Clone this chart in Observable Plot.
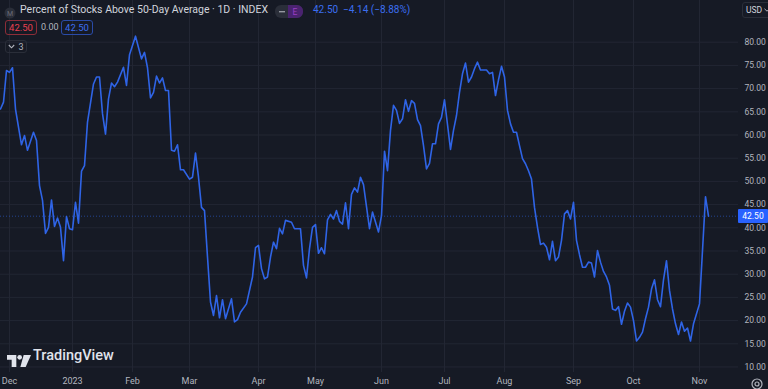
<!DOCTYPE html>
<html>
<head>
<meta charset="utf-8">
<script src="https://cdn.jsdelivr.net/npm/d3@7"></script>
<script src="https://cdn.jsdelivr.net/npm/@observablehq/plot@0.6"></script>
<style>
  html, body { margin: 0; padding: 0; background: #161a25; }
  #wrap { position: relative; width: 768px; height: 389px; overflow: hidden; font-family: Roboto, "Noto Sans", sans-serif; }
  .ov { position: absolute; white-space: nowrap; }
</style>
</head>
<body>
<div id="wrap"></div>
<script>
const bar = [0,1,2,3,4,5,6,7,8,9,11,12,13,14,15,16,17,18,19,20,21,22,23,24,25,26,27,28,29,31,32,33,34,35,36,37,38,39,41,42,43,45,47,48,49,50,51,52,53,54,55,56,57,58,59,60,61,63,64,65,66,67,68,69,70,71,72,73,74,75,77,78,79,80,
  82,84,85,86,87,88,89,90,91,92,93,94,95,97,98,100,101,102,103,104,105,106,107,108,109,110,111,112,113,114,115,116,117,118,119,120,121,123,124,126,127,128,129,130,131,132,133,134,135,136,137,138,139,140,141,142,143,144,145,146,147,148,150,151,152,153,154,155,156,157,158,159,160,
  162,163,164,165,166,167,168,169,170,171,172,173,174,175,176,177,178,179,180,181,182,183,184,185,186,187,188,189,190,191,192,193,194,195,196,197,198,199,200,201,202,203,204,205,206,207,208,209,210,211,212,213,214,215,216,217,218,219,220,221,222,223,224,225,226,227,228,229,230,231,233,234,235,236];
const pct = [65.6,67.1,73.9,73.5,74.5,65.6,61.7,57.9,59.9,56.7,60.6,58.8,49.1,45.9,38.8,40.1,46.0,40.3,42.1,40.1,32.9,42.4,39.8,39.6,45.5,41.0,52.2,53.4,62.8,71.0,72.5,72.5,64.6,60.2,67.8,71.2,70.4,71.4,74.6,70.7,77.3,81.3,76.4,77.8,74.5,68.0,69.2,72.7,71.2,72.3,69.6,69.6,56.7,56.5,57.9,52.5,52.5,50.5,50.9,56.1,50.9,44.4,43.7,33.7,24.0,21.1,25.4,20.6,24.5,20.4,24.7,19.7,20.2,21.8,
  23.6,29.4,35.7,36.2,31.2,29.0,29.4,33.7,36.9,35.5,39.9,38.7,41.6,41.2,39.8,39.8,31.9,29.2,35.5,40.1,40.7,34.5,35.7,34.4,41.7,42.9,41.9,43.7,41.4,40.8,45.4,39.8,47.2,48.6,47.7,50.9,49.3,39.8,43.4,39.1,42.6,56.5,52.3,61.0,66.4,65.3,62.5,63.5,67.6,65.1,67.4,66.8,63.3,62.0,57.7,52.7,53.9,58.1,58.1,62.4,63.8,67.6,56.9,61.0,64.2,69.2,73.2,75.5,71.4,72.5,74.3,75.7,74.0,
  74.0,73.2,73.5,68.5,71.9,74.8,72.5,65.3,62.4,60.6,60.6,57.7,54.9,53.8,52.3,50.5,44.4,40.1,36.4,36.7,35.8,33.1,37.1,32.9,33.7,37.3,43.0,43.7,41.9,45.5,37.3,34.2,31.5,31.5,32.6,32.4,29.4,35.1,32.6,30.6,29.4,27.6,22.5,22.2,23.0,19.2,22.0,23.8,22.9,20.0,15.6,16.4,17.5,20.4,22.9,26.8,28.8,24.5,23.0,28.8,32.9,26.5,22.5,19.3,17.0,19.7,17.7,18.4,15.6,19.3,23.6,35.1,46.7,42.5];

const monthBars = [3,24,44,63,86,105,127,148,168,191,211,233];
const monthLabels = ["Dec","2023","Feb","Mar","Apr","May","Jun","Jul","Aug","Sep","Oct","Nov"];
const priceTicks = [10,15,20,25,30,35,40,45,50,55,60,65,70,75,80];
const lastValue = 42.50;
const change = -4.14;
const changePct = -8.88;

const data = bar.map((b, i) => ({bar: b, pct: pct[i]}));

const BG = "#161a25", GRID = "#222633", BLUE = "#2f64e6", TXT = "#b2b5be";

const chart = Plot.plot({
  width: 768, height: 389,
  marginLeft: 0, marginRight: 30, marginTop: 0, marginBottom: 17,
  style: {background: BG, fontFamily: "Roboto, sans-serif", overflow: "visible"},
  x: {domain: [0, 246]},
  y: {domain: [8.81, 88.99]},
  marks: [
    Plot.ruleY(priceTicks, {stroke: GRID, strokeWidth: 1}),
    Plot.ruleX(monthBars, {stroke: GRID, strokeWidth: 1}),
    Plot.ruleY([lastValue], {stroke: BLUE, strokeOpacity: 0.55, strokeDasharray: "1,2"}),
    Plot.line(data, {x: "bar", y: "pct", stroke: BLUE, strokeWidth: 1.6, curve: "linear"}),
    Plot.axisY(priceTicks, {anchor: "right", tickSize: 0, tickPadding: 6, tickFormat: d => d.toFixed(2), fill: TXT, fontSize: 8.5, label: null}),
    Plot.axisX(monthBars, {anchor: "bottom", tickSize: 0, tickPadding: 5, tickFormat: (d, i) => monthLabels[i], fill: TXT, fontSize: 9, label: null})
  ]
});

const wrap = document.getElementById("wrap");
wrap.appendChild(chart);

function add(html, css) {
  const d = document.createElement("div");
  d.className = "ov";
  d.innerHTML = html;
  Object.assign(d.style, css);
  wrap.appendChild(d);
  return d;
}

// header
add(`<svg width="12" height="12"><circle cx="6" cy="6" r="5.5" fill="#2a2e39"/><text x="6" y="8.5" text-anchor="middle" font-size="7" fill="#6a6d78" font-family="Roboto">M</text></svg>`, {left: "4px", top: "4px"});
add("Percent of Stocks Above 50-Day Average · 1D · INDEX", {left: "20px", top: "3px", fontSize: "10.5px", color: "#d1d4dc"});
add(`<svg width="28" height="13"><rect x="0" y="0" width="28" height="13" rx="6" fill="#2a2e39"/><path d="M13 0 H22 A6 6 0 0 1 28 6.5 A6 6 0 0 1 22 13 H13 Z" fill="#4a2370"/><rect x="4" y="6" width="6" height="1.4" fill="#9598a1"/><text x="20" y="10" text-anchor="middle" font-size="8.5" fill="#9a3fc4" font-family="Roboto">E</text></svg>`, {left: "275px", top: "3px"});
add(`${lastValue.toFixed(2)}&nbsp;&nbsp;${change < 0 ? "\u2212" : "+"}${Math.abs(change).toFixed(2)} (${changePct < 0 ? "\u2212" : "+"}${Math.abs(changePct).toFixed(2)}%)`, {left: "313px", top: "4px", fontSize: "10px", color: "#3b6ef0"});

// row 2
add(lastValue.toFixed(2), {left: "5px", top: "20px", width: "32px", height: "15px", border: "1px solid #8c2d38", borderRadius: "3px", color: "#e8404f", fontSize: "9.5px", boxSizing: "border-box", display: "flex", alignItems: "center", justifyContent: "center"});
add("0.00", {left: "41px", top: "22px", fontSize: "9px", color: "#b2b5be"});
add(lastValue.toFixed(2), {left: "61px", top: "20px", width: "32px", height: "15px", border: "1px solid #2a4ba8", borderRadius: "3px", color: "#3b6ef0", fontSize: "9.5px", boxSizing: "border-box", display: "flex", alignItems: "center", justifyContent: "center"});
// row 3
add(`<svg width="7" height="5" style="margin-right:3px"><path d="M0.8 1 L3.5 3.8 L6.2 1" stroke="#b2b5be" stroke-width="1.1" fill="none"/></svg>3`, {left: "5px", top: "40px", width: "22px", height: "13px", border: "1px solid #2a2e39", borderRadius: "3px", color: "#b2b5be", fontSize: "9px", boxSizing: "border-box", display: "flex", alignItems: "center", justifyContent: "center"});

// USD button
add(`USD&nbsp;<svg width="6" height="4"><path d="M0.5 0.8 L3 3.2 L5.5 0.8" stroke="#b2b5be" stroke-width="1" fill="none"/></svg>`, {left: "742px", top: "2px", width: "30px", height: "16px", border: "1px solid #2a2e39", borderRadius: "3px", color: "#d1d4dc", fontSize: "8.5px", boxSizing: "border-box", display: "flex", alignItems: "center", paddingLeft: "3px"});

// last value badge on price scale
const yLast = chart.scale("y").apply(lastValue);
add(lastValue.toFixed(2), {left: "738px", top: (yLast - 7) + "px", width: "30px", height: "14px", background: "#2962ff", color: "#ffffff", fontSize: "8.5px", display: "flex", alignItems: "center", justifyContent: "center", borderRadius: "1px"});

// TradingView watermark
add(`<svg width="24" height="12" viewBox="0 0 36 18"><path d="M0 0 H14 V18 H7 V7 H0 Z" fill="#e0e3eb"/><circle cx="19" cy="3.5" r="3.5" fill="#e0e3eb"/><path d="M25 0 H36 L28 18 H20 Z" fill="#e0e3eb"/></svg>`, {left: "7px", top: "352px"});
add("TradingView", {left: "33px", top: "347px", fontSize: "14.5px", fontWeight: "500", color: "#e0e3eb"});

// settings icon
add(`<svg width="12" height="12"><circle cx="6" cy="6" r="5" stroke="#b2b5be" stroke-width="1.2" fill="none"/><circle cx="6" cy="6" r="2" stroke="#b2b5be" stroke-width="1.2" fill="none"/></svg>`, {left: "751px", top: "375px"});
</script>
</body>
</html>
